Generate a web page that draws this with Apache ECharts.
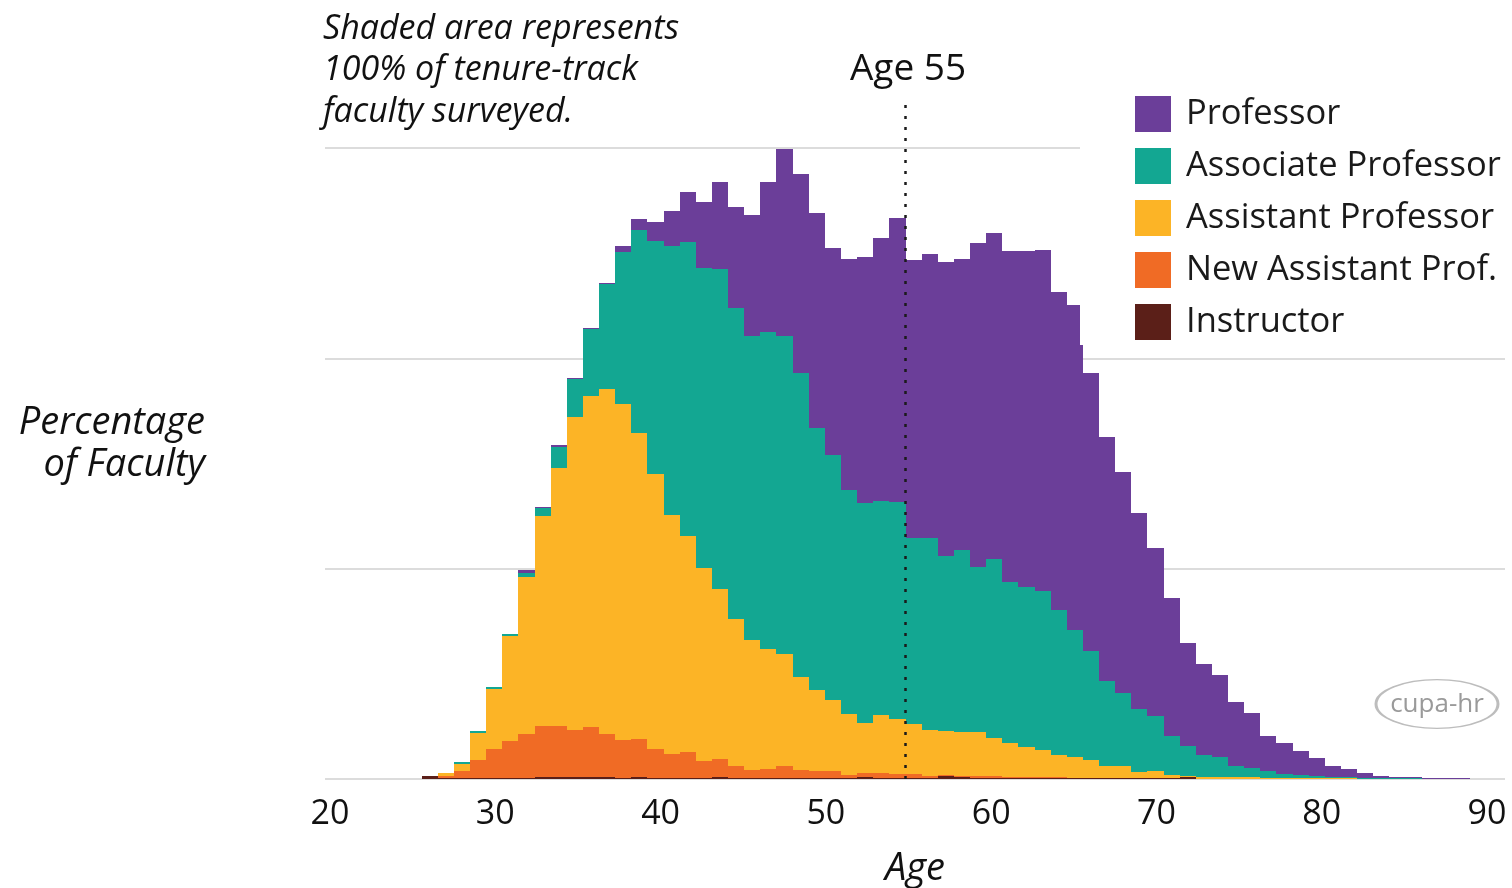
<!DOCTYPE html>
<html>
<head>
<meta charset="utf-8">
<title>Faculty by age</title>
<script src="https://cdn.jsdelivr.net/npm/echarts@6.0.0/dist/echarts.min.js"></script>
<style>
  html, body { margin: 0; padding: 0; background: #fff; }
  #main { width: 1512px; height: 888px; }
</style>
</head>
<body>
<div id="main"></div>
<script>
// ages, one bin per year (bin a covers a..a+1)
var ages = [25, 26, 27, 28, 29, 30, 31, 32, 33, 34,
            35, 36, 37, 38, 39, 40, 41, 42, 43, 44,
            45, 46, 47, 48, 49, 50, 51, 52, 53, 54,
            55, 56, 57, 58, 59, 60, 61, 62, 63, 64,
            65, 66, 67, 68, 69, 70, 71, 72, 73, 74,
            75, 76, 77, 78, 79, 80, 81, 82, 83, 84,
            85, 86, 87, 88, 89];
var ageTicks = [20, 30, 40, 50, 60, 70, 80, 90];
var markerAge = 55;

// percentage of faculty, per rank
var instructor = [0.012, 0.004, 0.004, 0.005, 0.006, 0.006, 0.006, 0.010, 0.008, 0.010,
                  0.010, 0.008, 0.006, 0.008, 0.006, 0.006, 0.006, 0.006, 0.008, 0.006,
                  0.006, 0.005, 0.006, 0.005, 0.006, 0.006, 0.006, 0.008, 0.006, 0.006,
                  0.005, 0.006, 0.012, 0.008, 0.006, 0.006, 0.005, 0.006, 0.005, 0.005,
                  0.004, 0.004, 0.003, 0.003, 0.003, 0.003, 0.003, 0.010, 0.002, 0.002,
                  0.002, 0, 0, 0, 0, 0, 0, 0, 0, 0,
                  0, 0, 0, 0, 0];
var newAssistant = [0, 0.008, 0.034, 0.085, 0.136, 0.176, 0.210, 0.240, 0.242, 0.222,
                    0.239, 0.208, 0.179, 0.184, 0.137, 0.115, 0.123, 0.079, 0.086, 0.054,
                    0.038, 0.043, 0.057, 0.038, 0.030, 0.032, 0.014, 0.019, 0.021, 0.019,
                    0.019, 0.009, 0.007, 0.006, 0.006, 0.006, 0.005, 0.004, 0.004, 0.003,
                    0.003, 0.002, 0.001, 0.001, 0.001, 0.001, 0, 0, 0, 0,
                    0, 0, 0, 0, 0, 0, 0, 0, 0, 0,
                    0, 0, 0, 0, 0];
var assistant = [0, 0.018, 0.032, 0.127, 0.286, 0.496, 0.746, 1.000, 1.227, 1.490,
                 1.572, 1.640, 1.596, 1.455, 1.306, 1.134, 1.025, 0.918, 0.810, 0.703,
                 0.616, 0.572, 0.533, 0.441, 0.389, 0.337, 0.288, 0.241, 0.277, 0.259,
                 0.236, 0.218, 0.209, 0.210, 0.210, 0.181, 0.163, 0.141, 0.129, 0.106,
                 0.096, 0.084, 0.060, 0.056, 0.029, 0.032, 0.018, 0.004, 0.009, 0.008,
                 0.007, 0.008, 0.007, 0.006, 0.005, 0.005, 0.004, 0.003, 0.002, 0.002,
                 0.001, 0.001, 0, 0, 0];
var associate = [0, 0, 0.010, 0.010, 0.009, 0.011, 0.016, 0.038, 0.101, 0.180,
                 0.319, 0.498, 0.725, 0.963, 1.109, 1.280, 1.401, 1.425, 1.520, 1.474,
                 1.448, 1.506, 1.509, 1.446, 1.245, 1.165, 1.068, 1.044, 1.016, 1.034,
                 0.884, 0.911, 0.832, 0.865, 0.786, 0.852, 0.762, 0.763, 0.754, 0.688,
                 0.607, 0.517, 0.400, 0.350, 0.298, 0.264, 0.183, 0.144, 0.103, 0.093,
                 0.051, 0.042, 0.030, 0.020, 0.013, 0.009, 0.004, 0.005, 0.003, 0.003,
                 0.003, 0.003, 0.002, 0.002, 0.001];
var professor = [0, 0, 0, 0, 0, 0, 0.016, 0.004, 0.010, 0.003,
                 0.006, 0.006, 0.026, 0.051, 0.092, 0.165, 0.235, 0.317, 0.416, 0.481,
                 0.572, 0.712, 0.890, 0.948, 1.020, 0.986, 1.097, 1.168, 1.250, 1.348,
                 1.321, 1.353, 1.396, 1.381, 1.541, 1.550, 1.575, 1.595, 1.623, 1.512,
                 1.543, 1.325, 1.163, 1.051, 0.935, 0.800, 0.658, 0.488, 0.433, 0.393,
                 0.305, 0.264, 0.167, 0.144, 0.115, 0.087, 0.054, 0.038, 0.022, 0.011,
                 0.004, 0.001, 0.002, 0.002, 0.002];

var FONT = '"Open Sans", Lato, sans-serif';

// bottom to top
var ranks = [
    { name: 'Instructor', values: instructor, color: '#5b1f18' },
    { name: 'New Assistant Prof.', values: newAssistant, color: '#f06b25' },
    { name: 'Assistant Professor', values: assistant, color: '#fcb426' },
    { name: 'Associate Professor', values: associate, color: '#13a792' },
    { name: 'Professor', values: professor, color: '#6b3e99' }
];

// one rect per age, from the layer below to this layer's top
// (snapped to whole pixels so neighbouring bins don't show seams)
function renderBin(params, api) {
    var age = api.value(0), lo = api.value(1), hi = api.value(2);
    if (!(hi > lo)) return null;
    var p0 = api.coord([age, lo]);
    var p1 = api.coord([age + 1, hi]);
    var x0 = Math.round(p0[0]), x1 = Math.round(p1[0]);
    var yBottom = Math.round(p0[1]), yTop = Math.round(p1[1]);
    if (yBottom - yTop < 1) yTop = yBottom - 1;
    return {
        type: 'rect',
        shape: { x: x0, y: yTop, width: x1 - x0, height: yBottom - yTop },
        style: { fill: api.visual('color') }
    };
}

var base = ages.map(function () { return 0; });
var series = ranks.map(function (r) {
    var data = ages.map(function (a, i) {
        var lo = base[i];
        base[i] = lo + r.values[i];
        return [a, lo, base[i]];
    });
    return {
        name: r.name,
        type: 'custom',
        xAxisIndex: 0,
        yAxisIndex: 0,
        silent: true,
        itemStyle: { color: r.color },
        encode: { x: 0, y: [1, 2] },
        renderItem: renderBin,
        data: data
    };
});

// dotted marker at age 55
series.push({
    name: 'Age 55',
    type: 'line',
    xAxisIndex: 0,
    yAxisIndex: 0,
    silent: true,
    symbol: 'none',
    z: 5,
    lineStyle: { color: '#1a1a1a', width: 2.5, type: [3, 8] },
    data: [[markerAge, 0], [markerAge, 3.22]]
});

var myChart = echarts.init(document.getElementById('main'));

var option = {
    animation: false,
    backgroundColor: '#fff',
    textStyle: { fontFamily: FONT },
    // grid 0 = the bins, grid 1 = gridlines and age labels
    grid: [
        { left: 341, right: 42, top: 100, bottom: 109, outerBoundsMode: 'none' },
        { left: 325, right: 7, top: 100, bottom: 109, outerBoundsMode: 'none' }
    ],
    xAxis: [
        { type: 'value', gridIndex: 0, min: 20, max: 90, show: false },
        {
            type: 'value', gridIndex: 1, min: 19.6975, max: 91.0875,
            axisLine: { show: false },
            axisTick: { show: false },
            splitLine: { show: false },
            axisLabel: {
                customValues: ageTicks,
                fontSize: 34, color: '#111', margin: 18, fontFamily: FONT
            },
            name: 'Age',
            nameLocation: 'middle',
            nameGap: 71,
            nameTextStyle: { fontSize: 38, fontStyle: 'italic', color: '#111', fontFamily: FONT }
        }
    ],
    yAxis: [
        { type: 'value', gridIndex: 0, min: 0, max: 3.228, show: false },
        {
            type: 'value', gridIndex: 1, min: 0, max: 3.228, interval: 1,
            axisLine: { show: false },
            axisTick: { show: false },
            axisLabel: { show: false },
            splitLine: {
                show: true, showMinLine: true, showMaxLine: false,
                lineStyle: { color: '#dcdcdc', width: 2 }
            }
        }
    ],
    legend: {
        orient: 'vertical',
        left: 1080,
        top: 91,
        padding: [5, 8, 5, 55],
        backgroundColor: '#fff',
        icon: 'rect',
        itemWidth: 36,
        itemHeight: 36,
        itemGap: 16,
        selectedMode: false,
        textStyle: { fontSize: 34.5, color: '#1a1a1a', fontFamily: FONT, padding: [0, 0, 0, 10] },
        data: ['Professor', 'Associate Professor', 'Assistant Professor', 'New Assistant Prof.', 'Instructor']
    },
    graphic: [
        { type: 'text', style: { text: 'Shaded area represents', x: 323, y: 29, fill: '#111',
            font: 'italic 34px ' + FONT, verticalAlign: 'middle' } },
        { type: 'text', style: { text: '100% of tenure-track', x: 323, y: 70, fill: '#111',
            font: 'italic 34px ' + FONT, verticalAlign: 'middle' } },
        { type: 'text', style: { text: 'faculty surveyed.', x: 323, y: 112, fill: '#111',
            font: 'italic 34px ' + FONT, verticalAlign: 'middle' } },
        { type: 'text', style: { text: 'Percentage', x: 205, y: 423, fill: '#111',
            font: 'italic 38px ' + FONT, align: 'right', verticalAlign: 'middle' } },
        { type: 'text', style: { text: 'of Faculty', x: 205, y: 465, fill: '#111',
            font: 'italic 38px ' + FONT, align: 'right', verticalAlign: 'middle' } },
        { type: 'text', style: { text: 'Age 55', x: 908, y: 69, fill: '#111',
            font: '37px ' + FONT, align: 'center', verticalAlign: 'middle' } },
        // cupa-hr watermark
        { type: 'circle', x: 1437, y: 704, scaleY: 0.4, shape: { cx: 0, cy: 0, r: 61 },
            style: { fill: 'none', stroke: '#bdbdbd', lineWidth: 3, strokeNoScale: true } },
        { type: 'text', style: { text: 'cupa-hr', x: 1437, y: 705, fill: '#9a9a9a',
            font: '26px ' + FONT, align: 'center', verticalAlign: 'middle' } }
    ],
    series: series
};

myChart.setOption(option);
</script>
</body>
</html>
